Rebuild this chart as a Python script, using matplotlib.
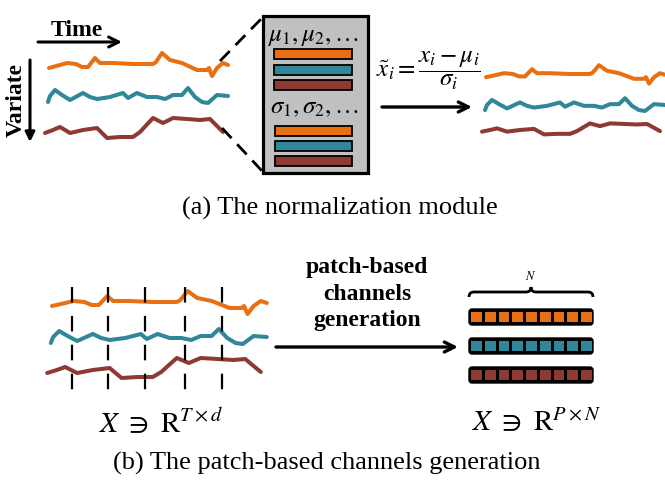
import numpy as np
import matplotlib.pyplot as plt
from matplotlib.patches import Rectangle, FancyBboxPatch, PathPatch
from matplotlib.path import Path

plt.rcParams['mathtext.fontset'] = 'stix'
SERIF = 'Liberation Serif'

ORANGE = '#E97012'
TEAL = '#2F8799'
BROWN = '#8E3A33'
GRAY = '#C0C0C0'

# sketched series, sampled in the top-left panel's pixel frame
orange_x = [49, 60, 67, 76, 82, 88, 95, 100, 113, 133, 153, 156, 162, 170, 182, 197, 207, 209, 212, 217, 223, 228]
orange_y = [68, 65, 63, 64, 67, 67, 58, 63, 63, 64, 64, 62, 53, 60, 63, 70, 70, 68, 76, 68, 63, 65]
teal_x = [48, 50, 55, 62, 70, 83, 90, 97, 110, 123, 128, 137, 147, 157, 165, 173, 182, 188, 195, 202, 208, 217, 228]
teal_y = [102, 96, 90, 95, 100, 93, 97, 99, 97, 93, 98, 93, 97, 97, 99, 95, 95, 88, 97, 102, 103, 95, 96]
brown_x = [45, 53, 60, 70, 83, 97, 102, 107, 120, 133, 140, 153, 163, 173, 187, 200, 210, 218, 223]
brown_y = [133, 130, 127, 133, 130, 128, 133, 138, 137, 137, 132, 118, 123, 118, 119, 120, 119, 127, 132]

series = [(orange_x, orange_y, ORANGE, 64),
          (teal_x, teal_y, TEAL, 96),
          (brown_x, brown_y, BROWN, 130)]

# where each panel puts the three series: (x start, x scale, baselines, y scales)
panels = [
    (49, 1.0, [64, 96, 130], [1.0, 1.0, 1.0]),
    (486, 1.0, [74, 105, 130], [0.8, 0.85, 0.55]),
    (52, 1.2, [302, 337, 370], [1.0, 1.0, 1.0]),
]

patch_cuts = [72, 108, 145, 185, 222]
n_patches = 9

fig = plt.figure(figsize=(6.65, 4.87), dpi=100)
ax = fig.add_axes([0, 0, 1, 1])
ax.set_xlim(0, 665)
ax.set_ylim(487, 0)
ax.axis('off')

for x0, sx, bases, scales in panels:
    for (xs, ys, c, b0), b, s in zip(series, bases, scales):
        xs = x0 + (np.array(xs) - 49) * sx
        ys = b + (np.array(ys) - b0) * s
        ax.plot(xs, ys, color=c, lw=2.9, solid_capstyle='round', solid_joinstyle='round')


def arrow(p0, p1, lw=2.2, style='->', ms=18):
    ax.annotate('', xy=p1, xytext=p0,
                arrowprops=dict(arrowstyle=style, lw=lw, color='black',
                                mutation_scale=ms, shrinkA=0, shrinkB=0))


# (a) normalization module
ax.text(77, 30, 'Time', fontsize=17, fontweight='bold', family=SERIF,
        ha='center', va='center')
arrow((38, 42), (122, 42))
ax.text(16, 100, 'Variate', fontsize=17, fontweight='bold', family=SERIF,
        ha='center', va='center', rotation=90)
arrow((30, 60), (30, 142), style='-|>', ms=14)

ax.plot([220, 263], [61, 17], color='black', lw=2, ls=(0, (5, 3)))
ax.plot([222, 263], [128, 172], color='black', lw=2, ls=(0, (5, 3)))

ax.add_patch(Rectangle((263, 16), 105, 157, facecolor=GRAY, edgecolor='black', lw=2.3))
ax.text(313, 36, r'$\mu_1, \mu_2, \ldots$', fontsize=18, ha='center', va='center')
ax.text(314, 107, r'$\sigma_1, \sigma_2, \ldots$', fontsize=18, ha='center', va='center')
for top, c in zip([49, 65, 80], [ORANGE, TEAL, BROWN]):
    ax.add_patch(Rectangle((274, top), 78, 10, facecolor=c, edgecolor='black', lw=1.3))
for top, c in zip([126, 141, 156], [ORANGE, TEAL, BROWN]):
    ax.add_patch(Rectangle((275, top), 77, 10, facecolor=c, edgecolor='black', lw=1.3))

ax.text(428, 71, r'$\tilde{x}_i = \dfrac{x_i - \mu_i}{\sigma_i}$', fontsize=18,
        ha='center', va='center')
arrow((382, 107), (472, 107), lw=2.4)

ax.text(340, 208, '(a) The normalization module', fontsize=19, family=SERIF,
        ha='center', va='center')

# (b) patch-based channels generation
for x in patch_cuts:
    ax.plot([x, x], [287, 393], color='black', lw=1.6, ls=(0, (7, 6)))
ax.text(161, 423, r'$X\ \ni\ \mathrm{R}^{T\times d}$', fontsize=21,
        ha='center', va='center')

arrow((276, 347), (458, 347), lw=2.4)
ax.text(367, 294, 'patch-based\nchannels\ngeneration', fontsize=17, fontweight='bold',
        family=SERIF, ha='center', va='center', linespacing=1.32)

bar_x, bar_w, bar_h = 469, 124, 16
for top, c in zip([309, 338, 367], [ORANGE, TEAL, BROWN]):
    ax.add_patch(FancyBboxPatch((bar_x, top), bar_w, bar_h,
                                boxstyle='round,pad=0,rounding_size=3',
                                facecolor='black', edgecolor='black', lw=1))
    cell = bar_w / n_patches
    for k in range(n_patches):
        ax.add_patch(Rectangle((bar_x + k * cell + 2, top + 3), cell - 3, bar_h - 6,
                               facecolor=c, edgecolor='none'))

# curly brace over the patch axis
bx0, bx1, by = 469, 593, 297
mid = (bx0 + bx1) / 2
verts = [(bx0, by), (bx0, by - 5), (bx0 + 5, by - 5),
         (mid - 5, by - 5), (mid, by - 5), (mid, by - 10),
         (mid, by - 5), (mid + 5, by - 5),
         (bx1 - 5, by - 5), (bx1, by - 5), (bx1, by)]
codes = [Path.MOVETO, Path.CURVE3, Path.CURVE3,
         Path.LINETO, Path.CURVE3, Path.CURVE3,
         Path.CURVE3, Path.CURVE3,
         Path.LINETO, Path.CURVE3, Path.CURVE3]
ax.add_patch(PathPatch(Path(verts, codes), facecolor='none', edgecolor='black', lw=2))
ax.text(mid, 277, r'$N$', fontsize=9, ha='center', va='center')

ax.text(537, 423, r'$X\ \ni\ \mathrm{R}^{P\times N}$', fontsize=21,
        ha='center', va='center')

ax.text(327, 463, '(b) The patch-based channels generation', fontsize=19, family=SERIF,
        ha='center', va='center')

fig.savefig('out.png', dpi=100)
